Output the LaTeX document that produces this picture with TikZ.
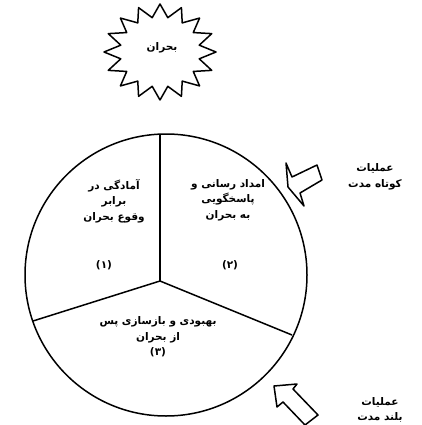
\documentclass[tikz,border=0pt]{standalone}
\usepackage{fontspec}
\newfontfamily\arabicfont[Script=Arabic]{DejaVu Sans}
\TeXXeTstate=1
\newcommand{\fa}[1]{{\arabicfont\bfseries\beginR #1\endR}}
\begin{document}
\begin{tikzpicture}[x=1pt,y=-1pt,
  outline/.style={draw=black,line width=1.5pt,line join=round},
  label/.style={font=\arabicfont\bfseries\fontsize{10.5}{15.5}\selectfont,align=center,inner sep=0pt}]
\useasboundingbox (0,0) rectangle (422,425);
\fill[white] (0,0) rectangle (422,425);
% star
\draw[outline] plot[domain=0:360,samples=33,variable=\t]
  ({160+(48+8*cos(16*\t))*cos(\t)},{52+(41.5+6.5*cos(16*\t))*sin(\t)}) -- cycle;
\node[label] (crisis) at (162,48) {\fa{بحران}};
% circle
\coordinate (c) at (166,275);
\coordinate (j) at (160,281);
\draw[outline] (c) circle[radius=141pt];
\coordinate (topend) at (160,134);
\coordinate (leftend) at (33,321);
\coordinate (rightend) at (292,335);
\draw[outline] (j) -- (topend);
\draw[outline] (j) -- (leftend);
\draw[outline] (j) -- (rightend);
% section texts
\node[label] (s1) at (114,201) {\fa{آمادگی در}\\\fa{برابر}\\\fa{وقوع بحران}};
\node[label] (n1) at (104,265) {\fa{(۱)}};
\node[label] (s2) at (228,200) {\fa{امداد رسانی و}\\\fa{پاسخگویی}\\\fa{به بحران}};
\node[label] (n2) at (230,265) {\fa{(۲)}};
\node[label] (s3) at (158,337) {\fa{بهبودی و بازسازی پس}\\\fa{از بحران}\\\fa{(۳)}};
% arrows
\draw[outline] (286,163) -- (292,177) -- (317,165) -- (322,180) -- (300,193) -- (304,206) -- (288,187) -- cycle;
\draw[outline] (274,386) -- (297,384) -- (293,389) -- (318,415) -- (305,425) -- (283,402) -- (277,407) -- cycle;
% right labels
\node[label] (short) at (375,177) {\fa{عملیات}\\\fa{کوتاه مدت}};
\node[label] (long) at (380,410) {\fa{عملیات}\\\fa{بلند مدت}};
\end{tikzpicture}
\end{document}
